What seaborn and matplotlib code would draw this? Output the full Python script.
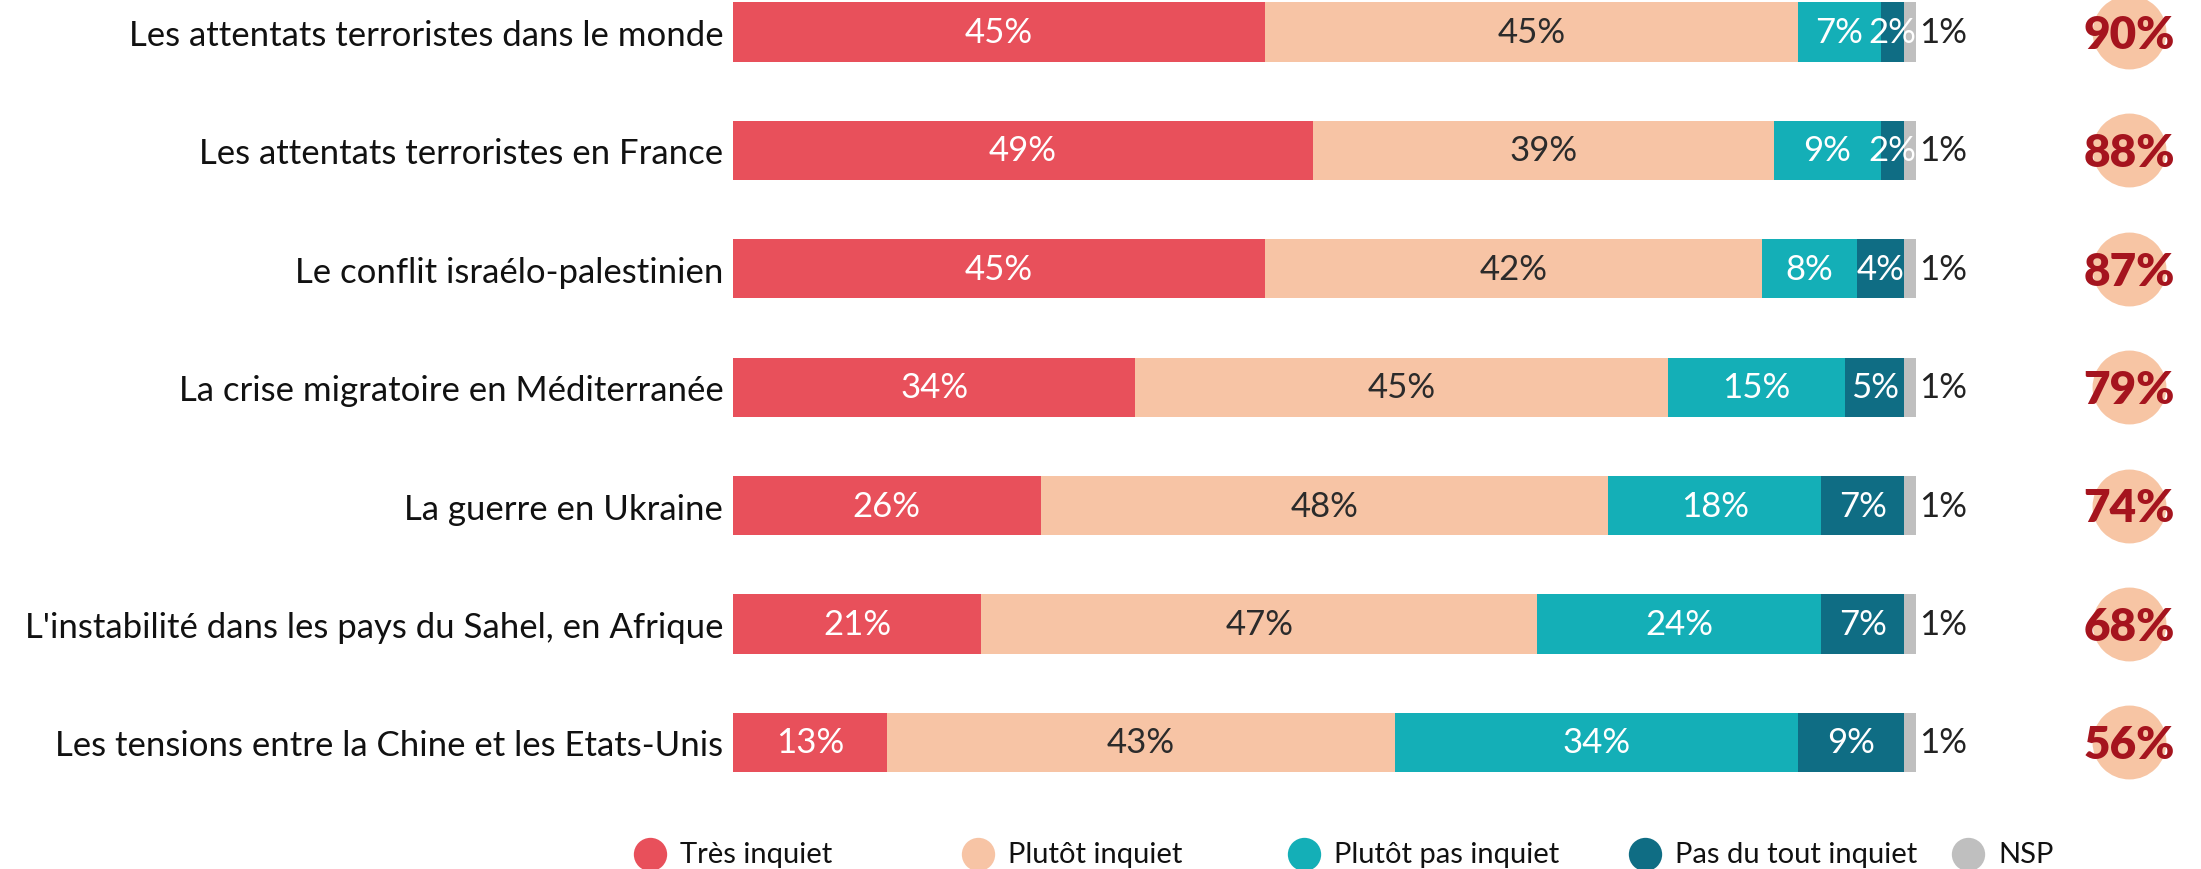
import matplotlib
matplotlib.use("Agg")
import matplotlib.pyplot as plt
import matplotlib.transforms as mtransforms
from matplotlib.lines import Line2D
import seaborn as sns
import numpy as np
import pandas as pd

categories = [
    "Les attentats terroristes dans le monde",
    "Les attentats terroristes en France",
    "Le conflit israélo-palestinien",
    "La crise migratoire en Méditerranée",
    "La guerre en Ukraine",
    "L'instabilité dans les pays du Sahel, en Afrique",
    "Les tensions entre la Chine et les Etats-Unis",
]
series_names = ["Très inquiet", "Plutôt inquiet", "Plutôt pas inquiet", "Pas du tout inquiet", "NSP"]
tres_inquiet = [45, 49, 45, 34, 26, 21, 13]
plutot_inquiet = [45, 39, 42, 45, 48, 47, 43]
plutot_pas_inquiet = [7, 9, 8, 15, 18, 24, 34]
pas_du_tout_inquiet = [2, 2, 4, 5, 7, 7, 9]
nsp = [1, 1, 1, 1, 1, 1, 1]
total_inquiet = [90, 88, 87, 79, 74, 68, 56]

colors = ["#E8505B", "#F7C4A5", "#14AFB7", "#0F6D84", "#BFBFBF"]
label_colors = ["white", "#2B2B2B", "white", "white", None]

sns.set_theme(style="white")
plt.rcParams["font.family"] = ["Lato", "DejaVu Sans"]

series = [tres_inquiet, plutot_inquiet, plutot_pas_inquiet, pas_du_tout_inquiet, nsp]
df = pd.DataFrame({"cat": categories})
cum = np.cumsum(np.array(series, dtype=float), axis=0)

fig = plt.figure(figsize=(22.01, 8.70), dpi=100)
ax = fig.add_axes([733 / 2201, 0, 1 - 733 / 2201, 1])

for k in range(len(series) - 1, -1, -1):
    d = df.copy()
    d["val"] = cum[k]
    sns.barplot(data=d, x="val", y="cat", color=colors[k], orient="h",
                width=0.5, linewidth=0, saturation=1, ax=ax)

unit = 1183 / 100.0
ax.set_xlim(0, (2201 - 733) / unit)
row_px = 118.4
top = -33 / row_px
ax.set_ylim(top + 870 / row_px, top)
for s in ax.spines.values():
    s.set_visible(False)
ax.set_xticks([])
ax.set_xlabel("")
ax.set_ylabel("")
ax.tick_params(axis="y", length=0, pad=7, labelsize=25, labelcolor="#111111")

fs = 25
for i in range(len(categories)):
    for k in range(len(series)):
        v = series[k][i]
        start = cum[k][i] - v
        if k < 4:
            ax.text(start + v / 2, i, f"{v}%", ha="center", va="center",
                    color=label_colors[k], fontsize=fs)
        else:
            ax.text(cum[k][i] + 0.25, i, f"{v}%", ha="left", va="center",
                    color="#222222", fontsize=fs)

trans = mtransforms.blended_transform_factory(ax.transAxes, ax.transData)
ypos = np.arange(len(categories))
ax.scatter([0.951] * len(categories), ypos, s=2830, color="#F7C5A4",
           transform=trans, clip_on=False, linewidths=0, zorder=3)
for i, t in enumerate(total_inquiet):
    ax.text(0.951, i + 0.02, f"{t}%", transform=trans, ha="center", va="center",
            color="#A5141E", fontsize=33, fontweight="heavy", zorder=4)

# legend
leg_x = [650, 978, 1304, 1645, 1968]
leg_y = 1 - 855 / 870
for name, c, lx in zip(series_names, colors, leg_x):
    fig.add_artist(Line2D([lx / 2201], [leg_y], marker="o", markersize=24,
                          color=c, markeredgewidth=0, linestyle="none",
                          transform=fig.transFigure))
    fig.text((lx + 30) / 2201, leg_y, name, ha="left", va="center",
             fontsize=21, color="#111111")

fig.savefig("out.png", dpi=100)
